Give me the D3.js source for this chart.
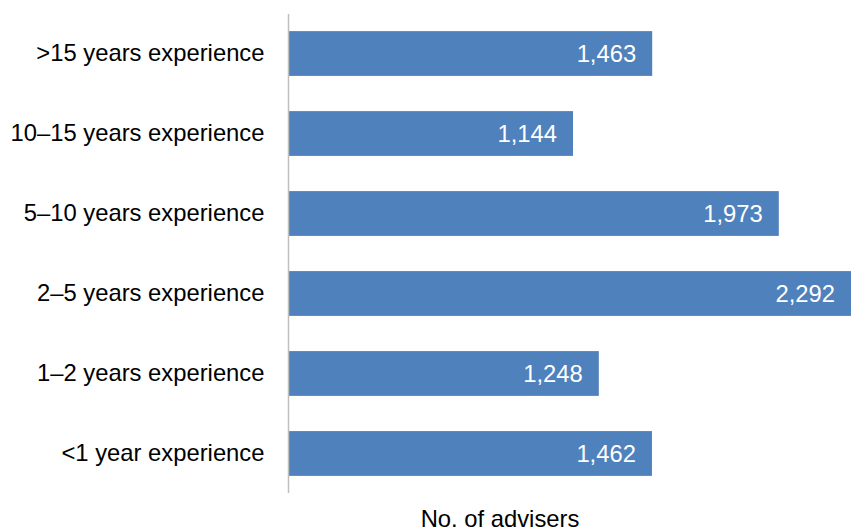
<!DOCTYPE html>
<html>
<head>
<meta charset="utf-8">
<script src="https://cdn.jsdelivr.net/npm/d3@7"></script>
<style>
  body { margin: 0; background: #fff; }
  text { font-family: "Liberation Sans", Arial, sans-serif; }
</style>
</head>
<body>
<div id="chart"></div>
<script>
const categories = ['>15 years experience', '10–15 years experience', '5–10 years experience',
    '2–5 years experience', '1–2 years experience', '<1 year experience'];
const advisers = [1463, 1144, 1973, 2292, 1248, 1462];
const axisTitle = 'No. of advisers';

const width = 851;
const height = 529;
const fontSize = 23.8;

const svg = d3.select('#chart').append('svg')
    .attr('width', width).attr('height', height);

const x = d3.scaleLinear()
    .domain([0, 2292])
    .range([289, 858]);

const y = d3.scaleBand()
    .domain(categories)
    .range([14, 493])
    .paddingInner(0.44)
    .paddingOuter(0.214);

const data = categories.map((c, i) => ({cat: c, value: advisers[i]}));

// bars
svg.append('g')
    .selectAll('rect')
    .data(data)
    .enter()
    .append('rect')
    .attr('x', x(0))
    .attr('y', d => y(d.cat))
    .attr('width', d => x(d.value) - x(0))
    .attr('height', y.bandwidth())
    .attr('fill', '#4f81bd');

// value labels inside bar ends
svg.append('g')
    .selectAll('text')
    .data(data)
    .enter()
    .append('text')
    .attr('x', d => Math.min(x(d.value), width) - 16)
    .attr('y', d => y(d.cat) + y.bandwidth() / 2)
    .attr('dy', '0.35em')
    .attr('text-anchor', 'end')
    .attr('fill', '#fff')
    .attr('font-size', fontSize)
    .text(d => d3.format(',')(d.value));

// category axis
const yAxis = svg.append('g')
    .attr('transform', 'translate(288.5,0)')
    .call(d3.axisLeft(y).tickSize(0).tickPadding(24));
yAxis.select('.domain').attr('stroke', '#bfbfbf').attr('stroke-width', 1.5)
    .attr('d', 'M0,14V493');
yAxis.selectAll('text')
    .attr('font-size', fontSize)
    .attr('font-family', '"Liberation Sans", Arial, sans-serif')
    .attr('fill', '#000');

svg.append('text')
    .attr('x', 500)
    .attr('y', 527)
    .attr('text-anchor', 'middle')
    .attr('font-size', fontSize)
    .attr('fill', '#000')
    .text(axisTitle);
</script>
</body>
</html>
